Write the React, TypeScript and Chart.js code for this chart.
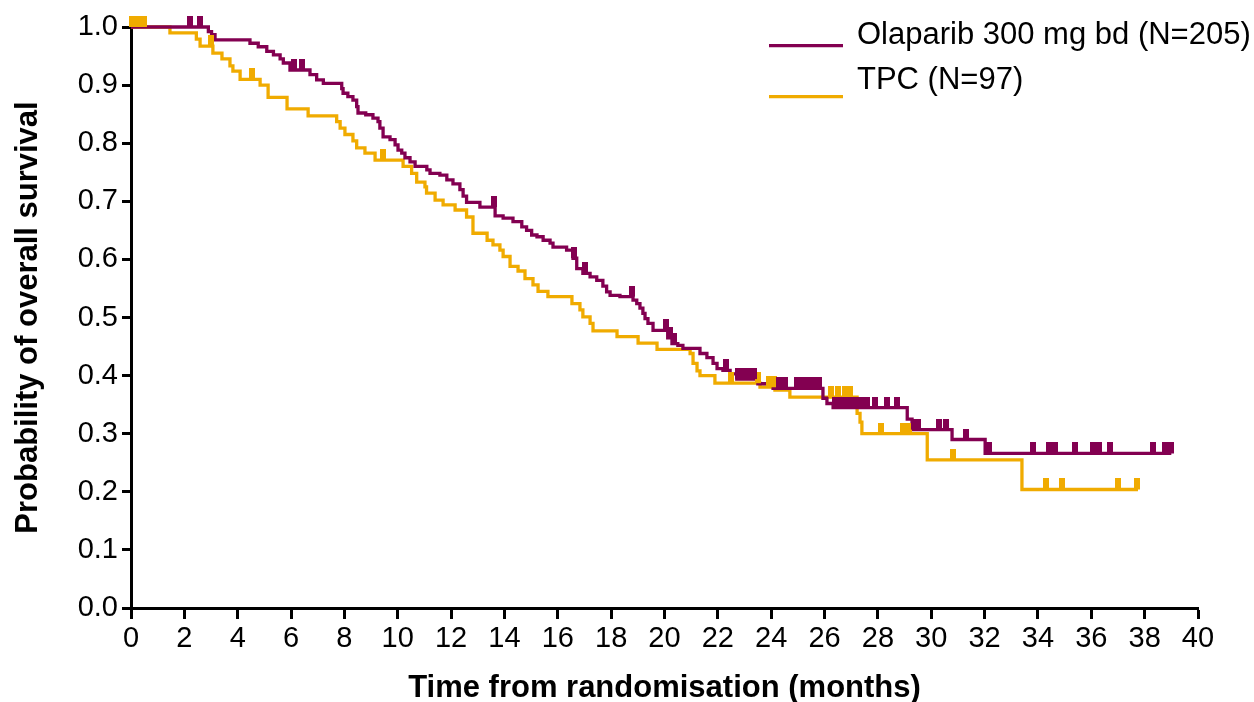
import React, { useEffect, useRef } from 'react';
import { Chart, registerables } from 'chart.js';

Chart.register(...registerables);

// ---------- data ----------
const seriesNames = ['Olaparib 300 mg bd (N=205)', 'TPC (N=97)'];
const seriesColors = ['#830051', '#F0AB00'];

const xTickStep = 2;
const xMax = 40;
const yTickStep = 0.1;

// Olaparib: event times (months) and survival after each event
const olaTimes = [
  2.9, 3.02, 3.15, 4.46, 4.77, 5.09, 5.34, 5.59, 5.71, 5.96,
  6.71, 6.96, 7.21, 7.9, 7.95, 8.13, 8.32, 8.46, 8.51, 8.8,
  9.07, 9.26, 9.33, 9.45, 9.71, 9.9, 10.01, 10.15, 10.27, 10.46,
  10.65, 11.09, 11.21, 11.58, 11.84, 12.07, 12.33, 12.45, 12.58, 13.08,
  13.65, 13.95, 14.32, 14.65, 14.83, 15.02, 15.22, 15.45, 15.71, 15.82,
  16.33, 16.57, 16.71, 16.94, 17.21, 17.46, 17.69, 17.83, 17.96, 18.33,
  18.82, 18.96, 19.08, 19.19, 19.27, 19.38, 19.57, 20.12, 20.28, 20.5,
  20.69, 21.33, 21.59, 21.82, 21.97, 22.19, 22.46, 22.71, 23.5, 24.07,
  25.94, 26.09, 26.32, 29.1, 29.28, 30.78, 32.02,
];
const olaSurv = [
  0.992, 0.987, 0.978, 0.972, 0.966, 0.958, 0.952, 0.945, 0.938, 0.926,
  0.918, 0.909, 0.903, 0.894, 0.886, 0.88, 0.874, 0.863, 0.852, 0.849,
  0.843, 0.837, 0.826, 0.811, 0.806, 0.797, 0.788, 0.783, 0.775, 0.768,
  0.76, 0.754, 0.748, 0.745, 0.737, 0.73, 0.72, 0.709, 0.698, 0.69,
  0.675, 0.671, 0.665, 0.656, 0.65, 0.642, 0.639, 0.633, 0.628, 0.621,
  0.616, 0.602, 0.584, 0.576, 0.57, 0.564, 0.554, 0.544, 0.538, 0.536,
  0.53, 0.524, 0.516, 0.507, 0.498, 0.49, 0.478, 0.465, 0.455, 0.452,
  0.447, 0.438, 0.431, 0.421, 0.412, 0.409, 0.403, 0.394, 0.386, 0.378,
  0.361, 0.352, 0.345, 0.325, 0.307, 0.29, 0.266,
];
const olaEnd = 39.0;
const olaCensored = [
  2.2, 2.6, 6.1, 6.4, 13.6, 16.6, 17.02, 18.77, 20.05, 20.2,
  20.35, 22.3, 22.75, 22.95, 23.15, 23.35, 24.3, 24.5, 24.95, 25.2,
  25.4, 25.6, 25.8, 26.4, 26.6, 26.8, 27.0, 27.2, 27.4, 27.6,
  27.9, 28.33, 28.73, 29.35, 29.5, 30.3, 30.55, 31.3, 32.15, 33.8,
  34.4, 34.65, 35.4, 36.05, 36.3, 36.7, 38.3, 38.75, 39.0,
];

// TPC: event times (months) and survival after each event
const tpcTimes = [
  1.46, 2.45, 2.59, 3.07, 3.41, 3.71, 3.82, 4.09, 4.84, 5.14,
  5.85, 6.64, 7.71, 7.84, 8.02, 8.32, 8.46, 8.77, 9.15, 10.2,
  10.52, 10.71, 11.02, 11.08, 11.4, 11.7, 12.15, 12.58, 12.82, 13.35,
  13.57, 13.83, 13.95, 14.21, 14.51, 14.77, 15.07, 15.26, 15.63, 16.53,
  16.83, 16.94, 17.21, 17.32, 18.22, 19.01, 19.72, 20.96, 21.07, 21.22,
  21.33, 21.89, 23.58, 24.14, 24.7, 27.22, 27.33, 27.4, 29.85, 33.4,
];
const tpcSurv = [
  0.99, 0.979, 0.967, 0.955, 0.945, 0.933, 0.924, 0.91, 0.9, 0.879,
  0.859, 0.847, 0.837, 0.826, 0.815, 0.804, 0.792, 0.783, 0.771, 0.76,
  0.748, 0.733, 0.725, 0.714, 0.702, 0.694, 0.685, 0.673, 0.645, 0.633,
  0.625, 0.616, 0.605, 0.588, 0.58, 0.567, 0.556, 0.545, 0.536, 0.524,
  0.513, 0.501, 0.49, 0.477, 0.467, 0.456, 0.445, 0.438, 0.421, 0.408,
  0.4, 0.387, 0.38, 0.375, 0.363, 0.335, 0.32, 0.3, 0.255, 0.204,
];
const tpcEnd = 37.75;
const tpcCensored = [
  0.05, 0.2, 0.35, 0.5, 3.0, 4.52, 9.45, 22.5, 23.5, 23.9,
  24.12, 26.25, 26.5, 26.75, 26.95, 28.1, 28.95, 29.15, 30.8, 34.3,
  34.9, 37.0, 37.7,
];

const xTitle = 'Time from randomisation (months)';
const yTitle = 'Probability of overall survival';

// ---------- helpers ----------
const FONT = "Arial, 'Liberation Sans', Helvetica, sans-serif";

function stepPoints(times: number[], surv: number[], end: number) {
  const pts = [{ x: 0, y: 1 }];
  times.forEach((t, i) => pts.push({ x: t, y: surv[i] }));
  pts.push({ x: end, y: surv[surv.length - 1] });
  return pts;
}

function survAt(times: number[], surv: number[], t: number) {
  let s = 1;
  for (let i = 0; i < times.length; i++) {
    if (times[i] <= t) s = surv[i];
  }
  return s;
}

function censorMark(color: string) {
  const c = document.createElement('canvas');
  c.width = 6;
  c.height = 22;
  const g = c.getContext('2d')!;
  g.fillStyle = color;
  g.fillRect(0, 0, 6, 11);
  return c;
}

const legendPlugin = {
  id: 'kmLegend',
  afterDraw(chart: any) {
    const ctx = chart.ctx;
    ctx.save();
    const rows = [
      { lineY: 45.7, textY: 44 },
      { lineY: 96.7, textY: 89 },
    ];
    seriesNames.forEach((name, i) => {
      ctx.strokeStyle = seriesColors[i];
      ctx.lineWidth = 3.3;
      ctx.beginPath();
      ctx.moveTo(769, rows[i].lineY);
      ctx.lineTo(843, rows[i].lineY);
      ctx.stroke();
      ctx.fillStyle = '#000';
      ctx.font = `31px ${FONT}`;
      ctx.textAlign = 'left';
      ctx.textBaseline = 'alphabetic';
      ctx.fillText(name, 857, rows[i].textY);
    });
    ctx.restore();
  },
};

export default function App() {
  const ref = useRef<HTMLCanvasElement | null>(null);

  useEffect(() => {
    document.body.style.margin = '0';
    const canvas = ref.current!;
    const olaLine = stepPoints(olaTimes, olaSurv, olaEnd);
    const tpcLine = stepPoints(tpcTimes, tpcSurv, tpcEnd);
    const olaCens = olaCensored.map((t) => ({ x: t, y: survAt(olaTimes, olaSurv, t) }));
    const tpcCens = tpcCensored.map((t) => ({ x: t, y: survAt(tpcTimes, tpcSurv, t) }));

    const tickFont = { family: FONT, size: 29 };
    const xTitleFont = { family: FONT, size: 31, weight: 'bold' as const, lineHeight: 0.9 };
    const yTitleFont = { family: FONT, size: 31, weight: 'bold' as const };

    const chart = new Chart(canvas, {
      type: 'line',
      data: {
        datasets: [
          {
            label: seriesNames[0] + ' censored',
            data: olaCens,
            showLine: false,
            pointStyle: censorMark(seriesColors[0]) as any,
            pointRadius: 5,
            clip: false as any,
          },
          {
            label: seriesNames[1] + ' censored',
            data: tpcCens,
            showLine: false,
            pointStyle: censorMark(seriesColors[1]) as any,
            pointRadius: 5,
            clip: false as any,
          },
          {
            label: seriesNames[0],
            data: olaLine,
            stepped: true,
            borderColor: seriesColors[0],
            borderWidth: 3.3,
            pointRadius: 0,
            fill: false,
            clip: false as any,
          },
          {
            label: seriesNames[1],
            data: tpcLine,
            stepped: true,
            borderColor: seriesColors[1],
            borderWidth: 3.3,
            pointRadius: 0,
            fill: false,
            clip: false as any,
          },
        ],
      },
      options: {
        animation: false,
        responsive: false,
        maintainAspectRatio: false,
        layout: { padding: { left: 0, top: 27, right: 56, bottom: 0 } },
        plugins: {
          legend: { display: false },
          tooltip: { enabled: false },
        },
        scales: {
          x: {
            type: 'linear',
            min: 0,
            max: xMax,
            afterFit: (s: any) => {
              s.height = 94;
            },
            ticks: {
              stepSize: xTickStep,
              color: '#000',
              font: tickFont,
              padding: 3,
              maxRotation: 0,
              autoSkip: false,
            },
            grid: {
              drawOnChartArea: false,
              drawTicks: true,
              tickLength: 11,
              tickWidth: 3,
              tickColor: '#000',
            },
            border: { display: true, color: '#000', width: 3 },
            title: {
              display: true,
              text: xTitle,
              color: '#000',
              font: xTitleFont,
              padding: { top: 0, bottom: 0 },
            },
          },
          y: {
            type: 'linear',
            min: 0,
            max: 1,
            afterFit: (s: any) => {
              s.width = 131;
            },
            ticks: {
              stepSize: yTickStep,
              color: '#000',
              font: tickFont,
              padding: 4,
              callback: (v: any) => Number(v).toFixed(1),
            },
            grid: {
              drawOnChartArea: false,
              drawTicks: true,
              tickLength: 9,
              tickWidth: 3,
              tickColor: '#000',
            },
            border: { display: true, color: '#000', width: 3 },
            title: {
              display: true,
              text: yTitle,
              color: '#000',
              font: yTitleFont,
              padding: { top: 10, bottom: 0 },
            },
          },
        },
      },
      plugins: [legendPlugin],
    });

    return () => {
      chart.destroy();
    };
  }, []);

  return (
    <div style={{ position: 'fixed', left: 0, top: 0, width: 1254, height: 702, background: '#fff' }}>
      <canvas ref={ref} width={1254} height={702} style={{ width: 1254, height: 702 }} />
    </div>
  );
}
